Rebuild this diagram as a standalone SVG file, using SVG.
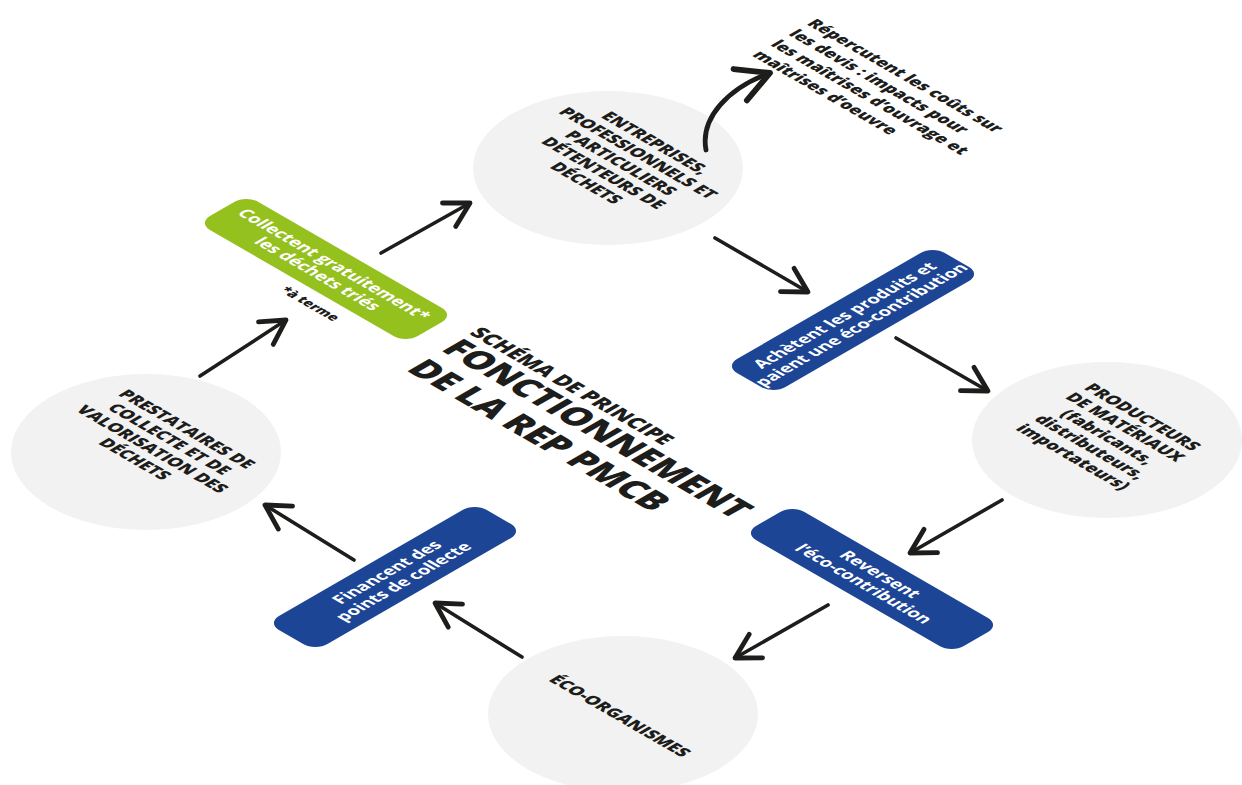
<svg xmlns="http://www.w3.org/2000/svg" width="1242" height="785" viewBox="0 0 1242 785">
<style>
.bg{fill:#ffffff}
.node{fill:#f2f2f2}
.t{font-family:"Open Sans","Liberation Sans",sans-serif;font-weight:800;fill:#1d1d1b;text-anchor:middle}
.tl{font-family:"Open Sans","Liberation Sans",sans-serif;font-weight:800;fill:#1d1d1b;text-anchor:start}
.w{font-family:"Open Sans","Liberation Sans",sans-serif;font-weight:700;fill:#ffffff;text-anchor:middle;font-size:17px}
.blue{fill:#1c4595}
.green{fill:#95c11f}
.arr{fill:none;stroke:#1d1d1b;stroke-width:3.6;stroke-linecap:round;marker-end:url(#ah)}
</style>
<defs>
<marker id="ah" markerUnits="userSpaceOnUse" markerWidth="60" markerHeight="60" viewBox="-30 -30 60 60" refX="0" refY="0" orient="auto" overflow="visible">
<path d="M-24,-13.5 L0,0 L-24,13.5" fill="none" stroke="#1d1d1b" stroke-width="4.8" stroke-linecap="round" stroke-linejoin="round"/>
</marker>
<marker id="ah2" markerUnits="userSpaceOnUse" markerWidth="80" markerHeight="80" viewBox="-40 -40 80 80" refX="0" refY="0" orient="auto" overflow="visible">
<path d="M-33,-16 L0,0 L-31,18" fill="none" stroke="#1d1d1b" stroke-width="5.8" stroke-linecap="round" stroke-linejoin="round"/>
</marker>
</defs>
<rect class="bg" width="1242" height="785"/>

<g id="n-entreprises">
<ellipse class="node" cx="608" cy="168" rx="135" ry="77"/>
<g transform="matrix(0.866 0.5 -0.866 0.5 621 163)" font-size="17">
<text class="t" x="0" y="-34">ENTREPRISES,</text>
<text class="t" x="0" y="-14">PROFESSIONNELS ET</text>
<text class="t" x="0" y="6">PARTICULIERS</text>
<text class="t" x="0" y="26">DÉTENTEURS DE</text>
<text class="t" x="0" y="46">DÉCHETS</text>
</g>
</g>

<g id="n-producteurs">
<ellipse class="node" cx="1107" cy="440" rx="135" ry="78"/>
<g transform="matrix(0.866 0.5 -0.866 0.5 1108 437)" font-size="17">
<text class="t" x="0" y="-34">PRODUCTEURS</text>
<text class="t" x="0" y="-14">DE MATÉRIAUX</text>
<text class="t" x="0" y="6">(fabricants,</text>
<text class="t" x="0" y="26">distributeurs,</text>
<text class="t" x="0" y="46">importateurs)</text>
</g>
</g>

<g id="n-eco">
<ellipse class="node" cx="623" cy="714" rx="135" ry="78"/>
<g transform="matrix(0.866 0.5 -0.866 0.5 620 716)" font-size="17">
<text class="t" x="0" y="6">ÉCO-ORGANISMES</text>
</g>
</g>

<g id="n-prestataires">
<ellipse class="node" cx="146" cy="452" rx="135" ry="78"/>
<g transform="matrix(0.866 0.5 -0.866 0.5 161 444)" font-size="17">
<text class="t" x="0" y="-24">PRESTATAIRES DE</text>
<text class="t" x="0" y="-4">COLLECTE ET DE</text>
<text class="t" x="0" y="16">VALORISATION DES</text>
<text class="t" x="0" y="36">DÉCHETS</text>
</g>
</g>

<g id="n-repercutent">
<g transform="matrix(0.866 0.5 -0.866 0.5 806 24)" font-size="16.6">
<text class="tl" x="0" y="0">Répercutent les coûts sur</text>
<text class="tl" x="0" y="21">les devis : impacts pour</text>
<text class="tl" x="0" y="42">les maîtrises d’ouvrage et</text>
<text class="tl" x="0" y="63">maîtrises d’oeuvre</text>
</g>
</g>

<g id="n-collectent">
<g transform="matrix(0.866 0.5 -0.866 0.5 326 269)">
<rect class="green" x="-120" y="-28" width="240" height="56" rx="14"/>
<text class="w" x="0" y="-3.5">Collectent gratuitement*</text>
<text class="w" x="0" y="15.5">les déchets triés</text>
</g>
<g transform="matrix(0.866 0.5 -0.866 0.5 310 304)" font-size="13.5">
<text class="t" x="0" y="4.5">*à terme</text>
</g>
</g>

<g id="n-achetent">
<g transform="matrix(0.866 -0.5 0.866 0.5 853 320)">
<rect class="blue" x="-120" y="-28" width="240" height="56" rx="14"/>
<text class="w" x="0" y="-3.5">Achètent les produits et</text>
<text class="w" x="0" y="15.5">paient une éco-contribution</text>
</g>
</g>

<g id="n-reversent">
<g transform="matrix(0.866 0.5 -0.866 0.5 872 579)">
<rect class="blue" x="-120" y="-28" width="240" height="56" rx="14"/>
<text class="w" x="0" y="-3.5">Reversent</text>
<text class="w" x="0" y="15.5">l’éco-contribution</text>
</g>
</g>

<g id="n-financent">
<g transform="matrix(0.866 -0.5 0.866 0.5 395 577)">
<rect class="blue" x="-120" y="-28" width="240" height="56" rx="14"/>
<text class="w" x="0" y="-3.5">Financent des</text>
<text class="w" x="0" y="15.5">points de collecte</text>
</g>
</g>

<g id="title">
<g transform="matrix(0.866 0.5 -0.866 0.5 440 350)">
<text class="tl" x="0" y="-33" font-size="21">SCHÉMA DE PRINCIPE</text>
<text class="tl" x="0" y="0" font-size="35">FONCTIONNEMENT</text>
<text class="tl" x="0" y="40" font-size="35">DE LA REP PMCB</text>
</g>
</g>

<g id="connectors">
<path class="arr" d="M200,376 L286,320"/>
<path class="arr" d="M381,253 L470,203"/>
<path d="M706,150 C700,118 728,88 770,73" fill="none" stroke="#1d1d1b" stroke-width="4.8" stroke-linecap="round" marker-end="url(#ah2)"/>
<path class="arr" d="M715,238 L808,292"/>
<path class="arr" d="M896,338 L988,391"/>
<path class="arr" d="M1002,500 L910,553"/>
<path class="arr" d="M828,605 L735,658"/>
<path class="arr" d="M522,657 L435,603"/>
<path class="arr" d="M354,560 L265,505"/>
</g>
</svg>
